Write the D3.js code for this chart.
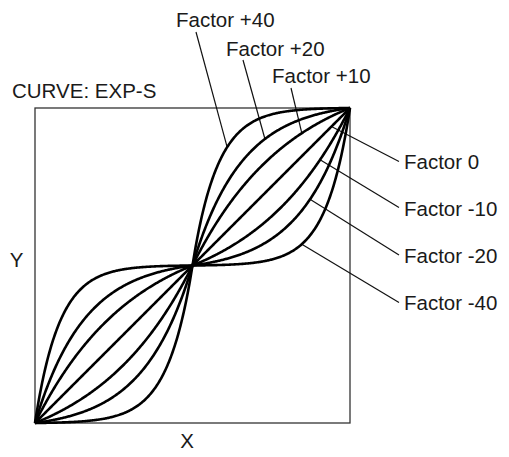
<!DOCTYPE html>
<html>
<head>
<meta charset="utf-8">
<script src="https://cdn.jsdelivr.net/npm/d3@7"></script>
<style>
  body { margin: 0; background: #fff; }
  text { font-family: "Liberation Sans", Arial, Helvetica, sans-serif; fill: #1a1a1a; }
</style>
</head>
<body>
<div id="chart"></div>
<script>
// ---------------- DATA ----------------
var factors = [40, 20, 10, 0, -10, -20, -40];
// curve steepness for each factor
var steepness = [6.3, 3.2, 1.6, 0, -1.6, -3.2, -6.5];
// x position (0..1) where each leader line touches its curve
var anchorX = [0.61, 0.73, 0.847, 0.941, 0.905, 0.873, 0.847];
var labels = ["Factor +40", "Factor +20", "Factor +10", "Factor 0",
              "Factor -10", "Factor -20", "Factor -40"];
var title = "CURVE: EXP-S";

// ---------------- CANVAS ----------------
var svgWidth = 509, svgHeight = 457;
var box = {left: 35, right: 350, top: 108, bottom: 423};

var svg = d3.select("#chart").append("svg")
  .attr("width", svgWidth)
  .attr("height", svgHeight);

var x = d3.scaleLinear().domain([0, 1]).range([box.left, box.right]);
var y = d3.scaleLinear().domain([0, 1]).range([box.bottom, box.top]);

// one half of the S: exponential from 0 to 1
function half(t, k) {
  if (k === 0) return t;
  return (1 - Math.exp(-k * t)) / (1 - Math.exp(-k));
}
// full S curve through the centre
function curve(v, k) {
  if (v >= 0.5) return 0.5 + 0.5 * half((v - 0.5) * 2, k);
  return 0.5 - 0.5 * half((0.5 - v) * 2, k);
}

// frame
svg.append("rect")
  .attr("x", x(0)).attr("y", y(1))
  .attr("width", x(1) - x(0)).attr("height", y(0) - y(1))
  .attr("fill", "none")
  .attr("stroke", "#333")
  .attr("stroke-width", 1.3);

// sample positions along x
var samples = d3.range(0, 1.0001, 0.0025);

var line = d3.line()
  .x(d => x(d[0]))
  .y(d => y(d[1]))
  .curve(d3.curveLinear);

// leader line label positions (text anchor point, line end)
var labelPos = [
  {tx: 176, ty: 27, lx: 196, ly: 32},
  {tx: 226, ty: 56, lx: 243, ly: 60},
  {tx: 272, ty: 83, lx: 291, ly: 88},
  {tx: 404, ty: 169, lx: 399, ly: 161.5},
  {tx: 404, ty: 216, lx: 399, ly: 207.5},
  {tx: 404, ty: 263, lx: 399, ly: 255},
  {tx: 404, ty: 310, lx: 399, ly: 302.5}
];

// leader lines
svg.append("g").selectAll("line")
  .data(factors)
  .enter()
  .append("line")
    .attr("x1", (d, i) => labelPos[i].lx)
    .attr("y1", (d, i) => labelPos[i].ly)
    .attr("x2", (d, i) => x(anchorX[i]))
    .attr("y2", (d, i) => y(curve(anchorX[i], steepness[i])))
    .attr("stroke", "#111")
    .attr("stroke-width", 1.2);

// curves
svg.append("g").selectAll("path")
  .data(factors)
  .enter()
  .append("path")
    .attr("d", (d, i) => line(samples.map(v => [v, curve(v, steepness[i])])))
    .attr("fill", "none")
    .attr("stroke", "#000")
    .attr("stroke-width", 2.6)
    .attr("stroke-linejoin", "round");

// labels
svg.append("g").selectAll("text")
  .data(labels)
  .enter()
  .append("text")
    .attr("x", (d, i) => labelPos[i].tx)
    .attr("y", (d, i) => labelPos[i].ty)
    .attr("font-size", "20.5px")
    .text(d => d);

svg.append("text")
  .attr("x", 12).attr("y", 98)
  .attr("font-size", "20.5px")
  .text(title);

svg.append("text")
  .attr("x", 16.5).attr("y", 266.5)
  .attr("text-anchor", "middle")
  .attr("font-size", "20.5px")
  .text("Y");

svg.append("text")
  .attr("x", 187).attr("y", 448)
  .attr("text-anchor", "middle")
  .attr("font-size", "20.5px")
  .text("X");
</script>
</body>
</html>
